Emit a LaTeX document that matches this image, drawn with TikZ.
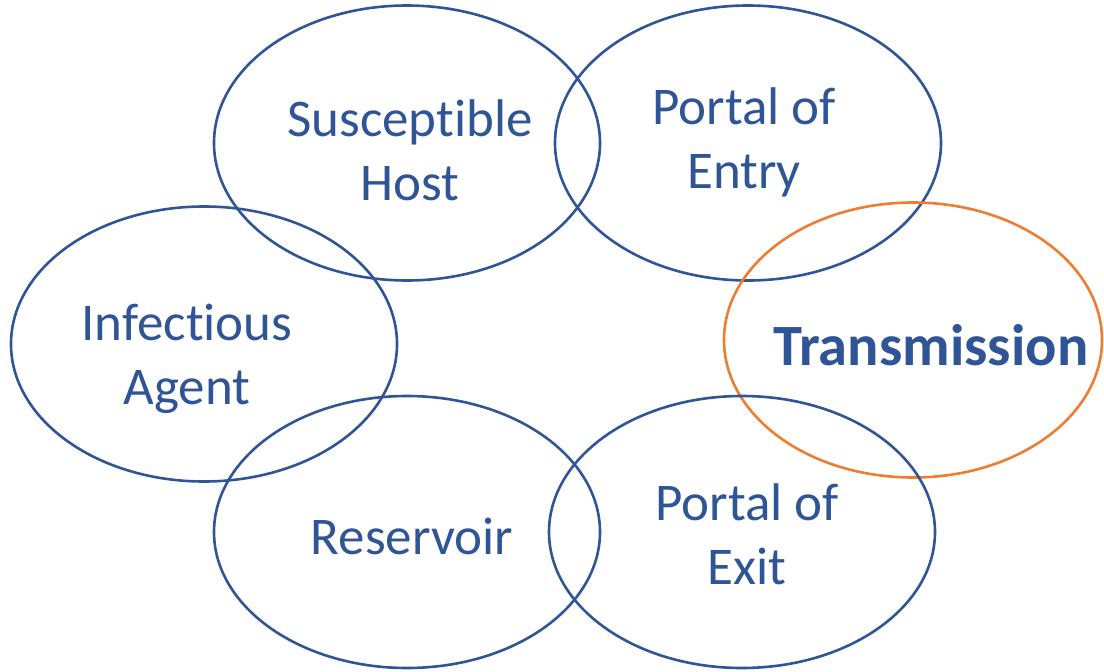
\documentclass[tikz,border=0pt]{standalone}
\usepackage{fontspec}
\setmainfont{Carlito}[Ligatures=CommonOff]
\usetikzlibrary{shapes.geometric}
\definecolor{ring}{HTML}{2F5597}
\definecolor{hot}{HTML}{ED7D31}

\tikzset{
    link/.style={ellipse, draw=ring, line width=2.6pt, inner sep=0pt,
        minimum width=386pt, minimum height=275pt},
    word/.style={text=ring, align=center, font=\fontsize{53}{64}\selectfont}
}

\begin{document}
\begin{tikzpicture}[x=1pt, y=-1pt]
    \useasboundingbox (0, 0) rectangle (1104, 672);

    % The chain links
    \node[link] (host) at (407, 143) {};
    \node[link] (entry) at (748, 143) {};
    \node[link] (agent) at (204, 344) {};
    \node[link, draw=hot, minimum width=378pt] (trans) at (913, 340) {};
    \node[link, minimum height=272pt] (res) at (407, 532) {};
    \node[link, minimum height=272pt] (exit) at (742, 532) {};

    % Labels
    \node[word] (hostlbl) at (410, 150) {Susceptible\\Host};
    \node[word] (entrylbl) at (744, 142) {Portal of\\Entry};
    \node[word] (agentlbl) at (187, 359) {Infectious\\Agent};
    \node[word, font=\fontsize{58.5}{66}\selectfont\bfseries] (translbl) at (931, 345) {Transmission};
    \node[word] (reslbl) at (412, 536) {Reservoir};
    \node[word] (exitlbl) at (747, 534) {Portal of\\Exit};
\end{tikzpicture}
\end{document}
